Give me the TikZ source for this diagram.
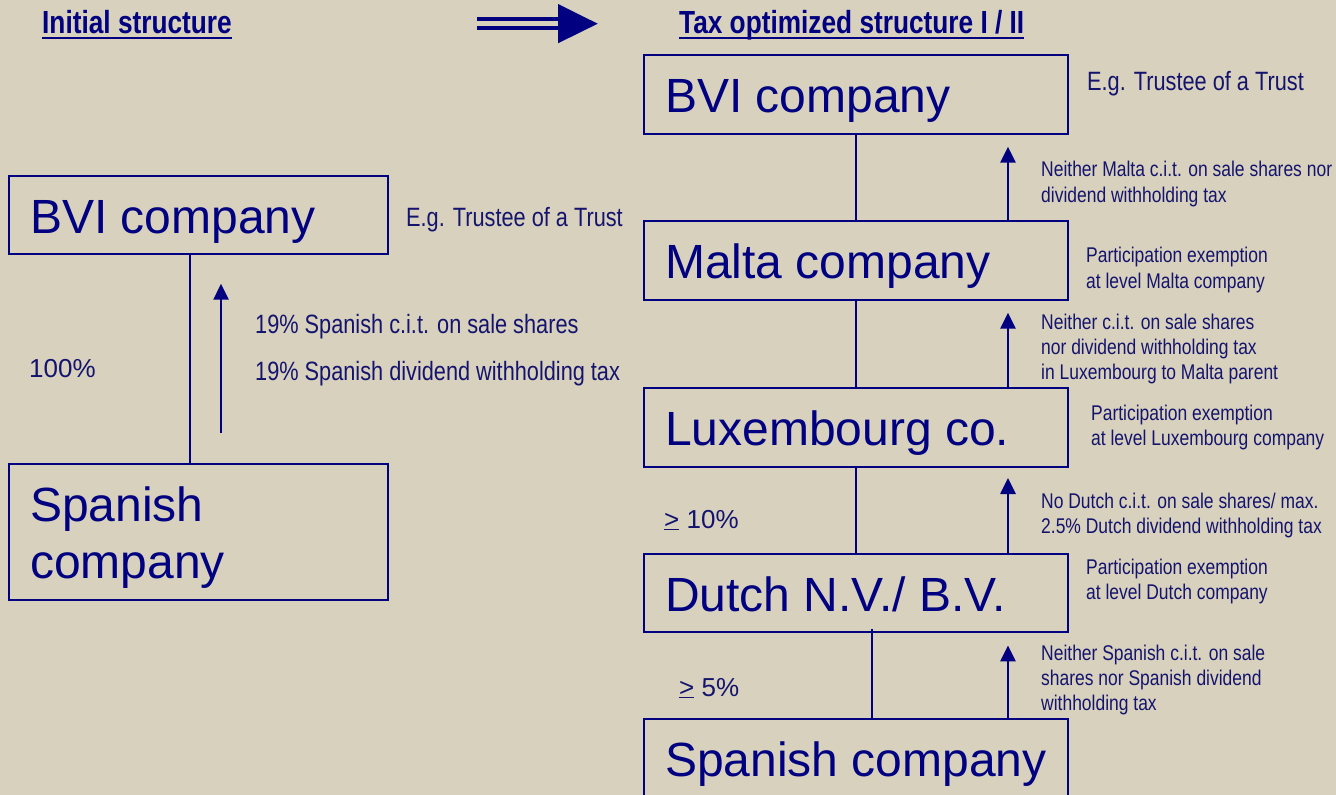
\documentclass[tikz,border=0pt]{standalone}
\usepackage{fontspec}
\setmainfont{Liberation Sans}
\newfontfamily\narrowfont[FakeStretch=0.82]{Liberation Sans}
\usetikzlibrary{arrows.meta}
\definecolor{paper}{HTML}{D8D1BD}
\definecolor{ink}{HTML}{000080}
\definecolor{textink}{HTML}{14146E}
% stacked lines whose baseline is that of the first line
\newcommand\textrows[1]{\begin{tabular}[t]{@{}l@{}}#1\end{tabular}}

\begin{document}
\begin{tikzpicture}[x=1pt,y=-1pt,
  box/.style={draw=ink, line width=2pt, inner sep=0pt, anchor=north west},
  rbox/.style={box, minimum width=423.4pt, minimum height=78.7pt},
  coname/.style={inner sep=0pt, anchor=base west, text=ink, font=\fontsize{48}{57.3}\selectfont},
  taxnote/.style={inner sep=0pt, anchor=base west, text=textink, font=\narrowfont\fontsize{21.3}{25.3}\selectfont},
  bignote/.style={inner sep=0pt, anchor=base west, text=textink, font=\narrowfont\fontsize{26.5}{47}\selectfont},
  holding/.style={inner sep=0pt, anchor=base west, text=textink, font=\fontsize{26}{31}\selectfont},
  heading/.style={inner sep=0pt, anchor=base west, text=ink, font=\narrowfont\bfseries\fontsize{32}{38}\selectfont},
  link/.style={draw=ink, line width=2pt},
  taxflow/.style={draw=ink, line width=2.7pt, -{Triangle[width=15pt,length=16pt]}},
]
\useasboundingbox (0,0) rectangle (1336,795);
\fill[paper] (0,0) rectangle (1336,795);
\clip (0,0) rectangle (1336,795);

% headings
\node[heading] (t1) at (42,33) {Initial structure};
\draw[ink, line width=2.7pt] ([yshift=-5pt]t1.base west) -- ([yshift=-5pt]t1.base east);
\node[heading] (t2) at (679,33) {Tax optimized structure I / II};
\draw[ink, line width=2.7pt] ([yshift=-5pt]t2.base west) -- ([yshift=-5pt]t2.base east);

% double arrow between the two structures
\coordinate (da1) at (477,19.3);
\coordinate (da2) at (477,28.3);
\coordinate (db1) at (558,19.3);
\coordinate (db2) at (558,28.3);
\draw[ink, line width=4pt] (da1) -- (db1) (da2) -- (db2);
\fill[ink] (558,4) -- (597.7,23.7) -- (558,43.3) -- cycle;

% ---------- initial structure ----------
\node[box, minimum width=378.7pt, minimum height=78.3pt] (bviL) at (8,175) {};
\node[coname] (bviLt) at ([xshift=22pt,yshift=-58.3pt]bviL.north west) {BVI company};
\node[box, minimum width=378.7pt, minimum height=136.6pt] (spanL) at (8,462.7) {};
\node[coname] (spanLt) at ([xshift=22pt,yshift=-58.3pt]spanL.north west) {\textrows{Spanish\\company}};

\draw[link] ([xshift=-8pt]bviL.south) -- ([xshift=-8pt]spanL.north);
\draw[taxflow] ([xshift=22.7pt,yshift=29.4pt]spanL.north) -- ([xshift=22.7pt,yshift=-28.4pt]bviL.south);

\node[bignote] (trustL) at (406,226) {E.g. Trustee of a Trust};
\node[bignote] (taxL) at (255,333) {\textrows{19\% Spanish c.i.t. on sale shares\\19\% Spanish dividend withholding tax}};
\node[holding] (pct100) at (29,377) {100\%};

% ---------- tax optimized structure ----------
\node[rbox] (bviR) at (643.3,54) {};
\node[rbox] (malta) at (643.3,220) {};
\node[rbox] (lux) at (643.3,387.3) {};
\node[rbox] (dutch) at (643.3,552.7) {};
\node[rbox, minimum height=82pt] (spanR) at (643.3,718.3) {};

\node[coname] (bviRt) at ([xshift=21.7pt,yshift=-58.3pt]bviR.north west) {BVI company};
\node[coname] (maltat) at ([xshift=21.7pt,yshift=-58.3pt]malta.north west) {Malta company};
\node[coname] (luxt) at ([xshift=21.7pt,yshift=-58.3pt]lux.north west) {Luxembourg co.};
\node[coname] (dutcht) at ([xshift=21.7pt,yshift=-58.3pt]dutch.north west) {Dutch N.V./ B.V.};
\node[coname] (spanRt) at ([xshift=21.7pt,yshift=-58.3pt]spanR.north west) {Spanish company};

\draw[link] (bviR.south) -- (malta.north);
\draw[link] (malta.south) -- (lux.north);
\draw[link] (lux.south) -- (dutch.north);
\draw[link] ([xshift=16pt,yshift=4pt]dutch.south) -- ([xshift=16pt]spanR.north);

\draw[taxflow] ([xshift=152pt]malta.north) -- ([xshift=152pt,yshift=-12pt]bviR.south);
\draw[taxflow] ([xshift=152pt]lux.north) -- ([xshift=152pt,yshift=-12pt]malta.south);
\draw[taxflow] ([xshift=152pt]dutch.north) -- ([xshift=152pt,yshift=-10pt]lux.south);
\draw[taxflow] ([xshift=152pt]spanR.north) -- ([xshift=152pt,yshift=-12pt]dutch.south);

\node[bignote] (trustR) at (1087,90) {E.g. Trustee of a Trust};
\node[taxnote] (nMalta) at (1041,176.7) {\textrows{Neither Malta c.i.t. on sale shares nor\\dividend withholding tax}};
\node[taxnote] (peMalta) at (1086,262.7) {\textrows{Participation exemption\\at level Malta company}};
\node[taxnote] (nLux) at (1041,329.3) {\textrows{Neither c.i.t. on sale shares\\nor dividend withholding tax\\in Luxembourg to Malta parent}};
\node[taxnote] (peLux) at (1091,420) {\textrows{Participation exemption\\at level Luxembourg company}};
\node[taxnote] (nDutch) at (1041,508.3) {\textrows{No Dutch c.i.t. on sale shares/ max.\\2.5\% Dutch dividend withholding tax}};
\node[taxnote] (peDutch) at (1086,574) {\textrows{Participation exemption\\at level Dutch company}};
\node[taxnote] (nSpain) at (1041,660) {\textrows{Neither Spanish c.i.t. on sale\\shares nor Spanish dividend\\withholding tax}};

\node[holding] (pct10) at (664,528) {\underline{>} 10\%};
\node[holding] (pct5) at (679,696) {\underline{>} 5\%};
\end{tikzpicture}
\end{document}
